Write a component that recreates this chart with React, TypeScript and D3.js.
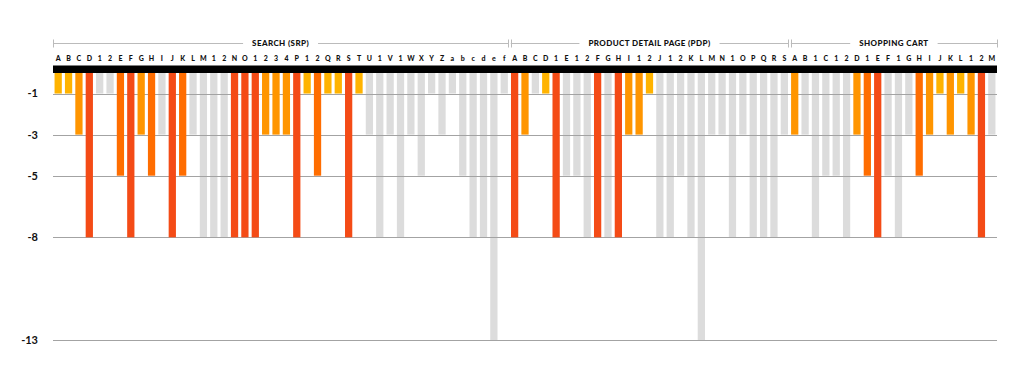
import React, { useEffect, useRef } from 'react';
import * as d3 from 'd3';

// section 1: search results page
const searchLabels = ['A','B','C','D','1','2','E','F','G','H','I','J','K','L','M','1','2','N','O','1','2','3','4','P','1','2','Q','R','S','T','U','1','V','1','W','X','Y','Z','a','b','c','d','e','f'];
const searchValues = [-1,-1,-3,-8,-1,-1,-5,-8,-3,-5,-3,-8,-5,-3,-8,-8,-8,-8,-8,-8,-3,-3,-3,-8,-1,-5,-1,-1,-8,-1,-3,-8,-3,-8,-3,-5,-1,-3,-1,-5,-8,-8,-13,-1];
const searchHighlight = [1,1,1,1,0,0,1,1,1,1,0,1,1,0,0,0,0,1,1,1,1,1,1,1,1,1,1,1,1,1,0,0,0,0,0,0,0,0,0,0,0,0,0,0];

// section 2: product detail page
const pdpLabels = ['A','B','C','D','1','E','1','2','F','G','H','I','1','2','J','1','2','K','L','M','N','1','O','P','Q','R','S'];
const pdpValues = [-8,-3,-1,-1,-8,-5,-5,-8,-8,-8,-8,-3,-3,-1,-8,-8,-5,-8,-13,-3,-3,-8,-3,-8,-8,-8,-3];
const pdpHighlight = [1,1,0,1,1,0,0,0,1,0,1,1,1,1,0,0,0,0,0,0,0,0,0,0,0,0,0];

// section 3: shopping cart
const cartLabels = ['A','B','1','C','1','2','D','1','E','F','1','G','H','I','J','K','L','1','2','M'];
const cartValues = [-3,-3,-8,-5,-5,-8,-3,-5,-8,-5,-8,-3,-5,-3,-1,-3,-1,-3,-8,-3];
const cartHighlight = [1,0,0,0,0,0,1,1,1,0,0,0,1,1,1,1,1,1,1,0];

const sectionTitles = ['SEARCH (SRP)', 'PRODUCT DETAIL PAGE (PDP)', 'SHOPPING CART'];
const yTicks = [-1, -3, -5, -8, -13];

const levelColor: Record<string, string> = {
  '-1': '#ffb300',
  '-3': '#ff9500',
  '-5': '#ff6d00',
  '-8': '#f44b16',
};
const grey = '#dcdcdc';

const font = 'Lato, "Open Sans", sans-serif';

function App() {
  const ref = useRef<SVGSVGElement>(null);

  const width = 1024;
  const height = 384;

  useEffect(() => {
    const svg = d3.select(ref.current);
    svg.selectAll('*').remove();

    const sections = [
      { title: sectionTitles[0], labels: searchLabels, values: searchValues, hi: searchHighlight },
      { title: sectionTitles[1], labels: pdpLabels, values: pdpValues, hi: pdpHighlight },
      { title: sectionTitles[2], labels: cartLabels, values: cartValues, hi: cartHighlight },
    ];

    const bars: { i: number; label: string; value: number; hi: number }[] = [];
    const bounds: { title: string; start: number; end: number }[] = [];
    sections.forEach(s => {
      const start = bars.length;
      s.labels.forEach((l, k) => bars.push({ i: bars.length, label: l, value: s.values[k], hi: s.hi[k] }));
      bounds.push({ title: s.title, start, end: bars.length });
    });

    const left = 53;
    const right = 997;
    const x = d3.scaleBand<number>()
      .domain(bars.map(d => d.i))
      .range([left, right])
      .paddingInner(0.3)
      .paddingOuter(0.15);
    const step = x.step();
    const edge = (i: number) => left + (right - left - step * bars.length) / 2 + i * step;

    const y = d3.scaleLinear().domain([0, -13]).range([73, 340]);

    // grey bars
    svg.append('g')
      .selectAll('rect')
      .data(bars.filter(d => !d.hi))
      .join('rect')
      .attr('x', d => x(d.i)!)
      .attr('width', x.bandwidth())
      .attr('y', y(0))
      .attr('height', d => y(d.value) - y(0))
      .attr('fill', grey);

    // gridlines
    svg.append('g')
      .selectAll('line')
      .data(yTicks)
      .join('line')
      .attr('x1', left)
      .attr('x2', right)
      .attr('y1', d => Math.round(y(d)) + 0.5)
      .attr('y2', d => Math.round(y(d)) + 0.5)
      .attr('stroke', '#a3a3a3')
      .attr('stroke-width', 1);

    // highlighted bars
    svg.append('g')
      .selectAll('rect')
      .data(bars.filter(d => d.hi))
      .join('rect')
      .attr('x', d => x(d.i)!)
      .attr('width', x.bandwidth())
      .attr('y', y(0))
      .attr('height', d => y(d.value) - y(0))
      .attr('fill', d => levelColor[String(d.value)]);

    // black band
    svg.append('rect')
      .attr('x', left)
      .attr('width', right - left)
      .attr('y', 65.5)
      .attr('height', y(0) - 65.5)
      .attr('fill', '#000');

    // y labels
    svg.append('g')
      .selectAll('text')
      .data(yTicks)
      .join('text')
      .attr('x', 38)
      .attr('y', d => y(d))
      .attr('dy', '0.36em')
      .attr('text-anchor', 'end')
      .attr('font-family', font)
      .attr('font-weight', 700)
      .attr('font-size', 11)
      .attr('fill', '#111')
      .text(d => String(d));

    // category labels
    svg.append('g')
      .selectAll('text')
      .data(bars)
      .join('text')
      .attr('x', d => x(d.i)! + x.bandwidth() / 2)
      .attr('y', 61)
      .attr('text-anchor', 'middle')
      .attr('font-family', font)
      .attr('font-weight', 900)
      .attr('font-size', 7)
      .attr('fill', '#111')
      .text(d => d.label);

    // section brackets
    const by = 43.5;
    bounds.forEach((b, k) => {
      const x0 = k === 0 ? left : edge(b.start) + 1.3;
      const x1 = k === bounds.length - 1 ? right : edge(b.end) - 1.3;
      const g = svg.append('g');
      const t = g.append('text')
        .attr('x', (x0 + x1) / 2)
        .attr('y', by)
        .attr('dy', '0.35em')
        .attr('text-anchor', 'middle')
        .attr('font-family', font)
        .attr('font-weight', 900)
        .attr('font-size', 8)
        .attr('letter-spacing', 0.4)
        .attr('fill', '#111')
        .text(b.title);
      const w = (t.node() as SVGTextElement).getBBox().width;
      const cx = (x0 + x1) / 2;
      [[x0, cx - w / 2 - 9], [cx + w / 2 + 9, x1]].forEach(([a, c]) => {
        g.append('line')
          .attr('x1', a).attr('x2', c)
          .attr('y1', by).attr('y2', by)
          .attr('stroke', '#bbb');
      });
      [x0, x1].forEach(px => {
        g.append('line')
          .attr('x1', Math.round(px) + 0.5).attr('x2', Math.round(px) + 0.5)
          .attr('y1', by - 4).attr('y2', by + 4)
          .attr('stroke', '#bbb');
      });
    });
  }, []);

  return (
    <svg
      ref={ref}
      width={width}
      height={height}
      style={{ position: 'absolute', left: 0, top: 0, background: '#fff' }}
    />
  );
}

export default App;
